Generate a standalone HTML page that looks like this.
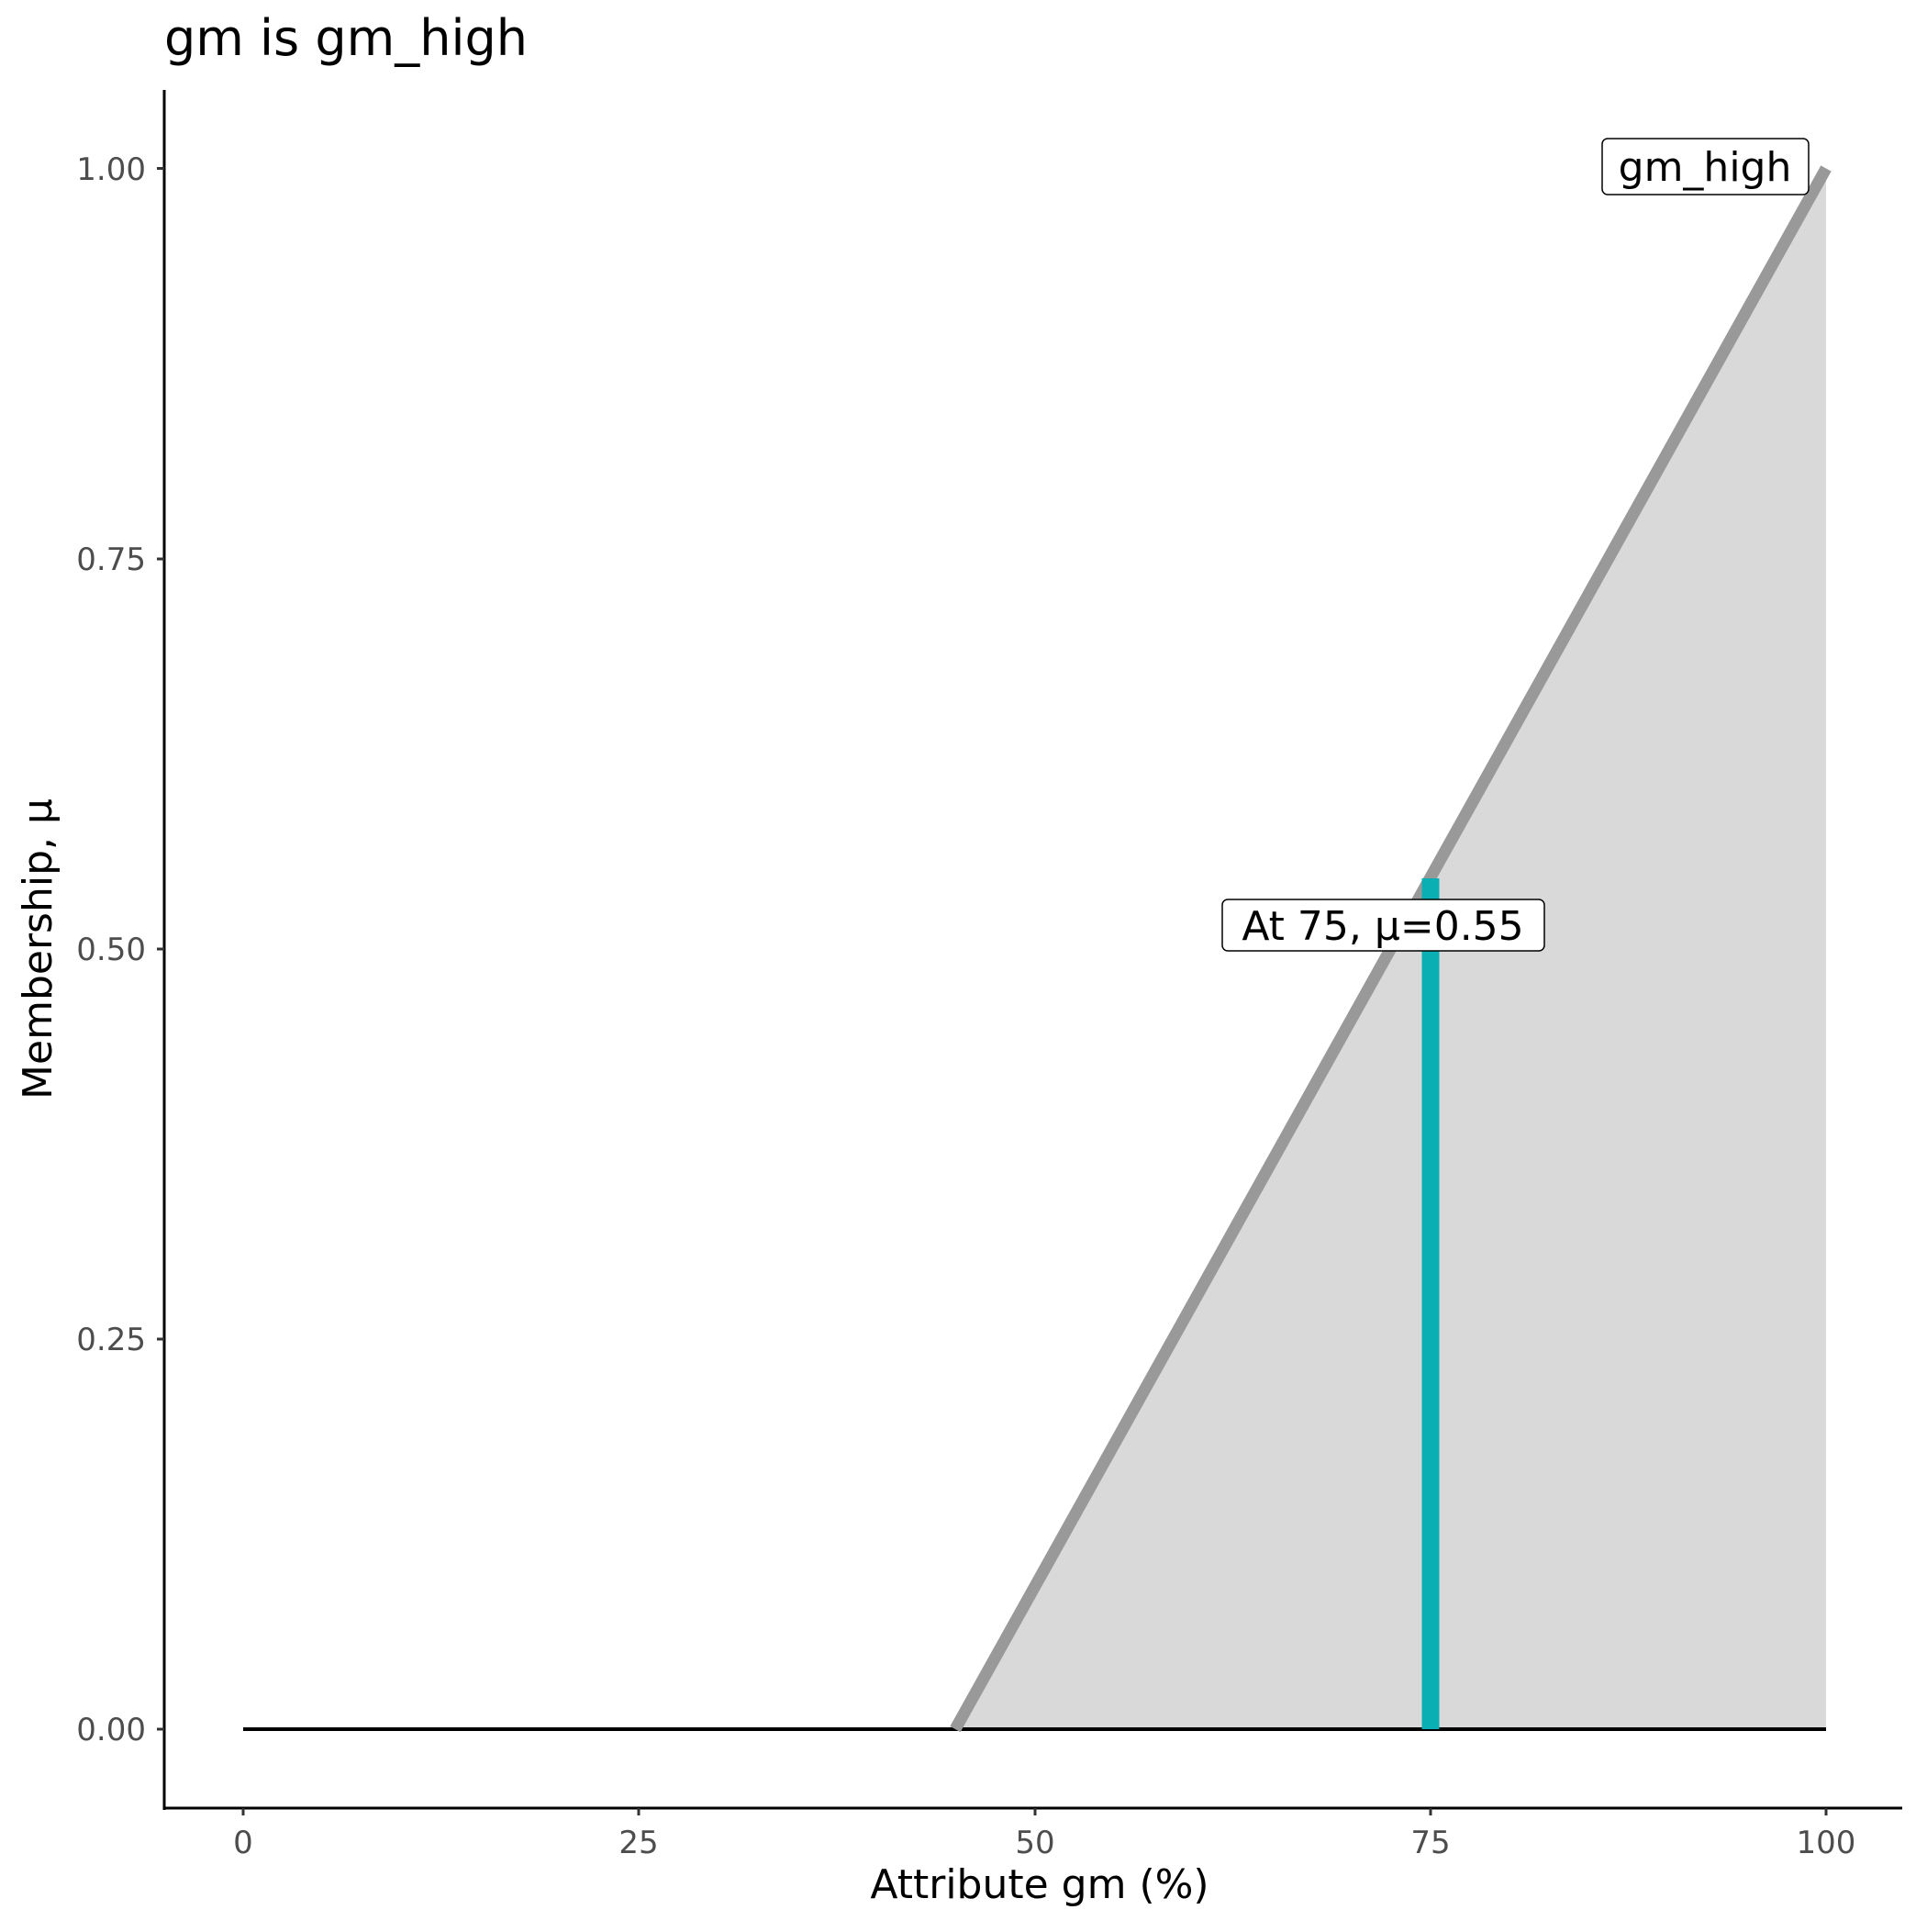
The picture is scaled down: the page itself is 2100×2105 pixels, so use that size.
<!DOCTYPE html>
<html><head><style>html,body{margin:0;padding:0;background:#fff}</style></head>
<body>
<svg width="2100" height="2100" viewBox="0 0 2100 2100" xmlns="http://www.w3.org/2000/svg" font-family="DejaVu Sans, Liberation Sans, sans-serif">
<rect width="2100" height="2100" fill="#fff"/>
<polygon points="1041,1884 1990,183.5 1990,1884" fill="#d9d9d9"/>
<line x1="265" y1="1884" x2="1990" y2="1884" stroke="#000" stroke-width="4"/>
<line x1="1041" y1="1884" x2="1990" y2="183.5" stroke="#999" stroke-width="13"/>
<line x1="1559" y1="1884" x2="1559" y2="957" stroke="#0aafb3" stroke-width="19"/>
<rect x="1332" y="980" width="351" height="56" rx="6" fill="#fff" stroke="#000" stroke-width="1.5"/>
<text x="1507" y="1024" font-size="44" text-anchor="middle">At 75, μ=0.55</text>
<rect x="1746" y="151" width="225" height="61" rx="6" fill="#fff" stroke="#000" stroke-width="1.5"/>
<text x="1858" y="197" font-size="44" text-anchor="middle">gm_high</text>
<line x1="179" y1="98" x2="179" y2="1972" stroke="#000" stroke-width="3"/>
<line x1="178" y1="1970" x2="2073" y2="1970" stroke="#000" stroke-width="3"/>
<g stroke="#333" stroke-width="3">
<line x1="171" y1="1884" x2="179" y2="1884"/><line x1="171" y1="1459" x2="179" y2="1459"/>
<line x1="171" y1="1034" x2="179" y2="1034"/><line x1="171" y1="609" x2="179" y2="609"/>
<line x1="171" y1="183.5" x2="179" y2="183.5"/>
<line x1="265" y1="1970" x2="265" y2="1978"/><line x1="696" y1="1970" x2="696" y2="1978"/>
<line x1="1128" y1="1970" x2="1128" y2="1978"/><line x1="1559" y1="1970" x2="1559" y2="1978"/>
<line x1="1990" y1="1970" x2="1990" y2="1978"/>
</g>
<g font-size="34" fill="#4d4d4d" text-anchor="end">
<text x="159" y="1896">0.00</text><text x="159" y="1471">0.25</text>
<text x="159" y="1046">0.50</text><text x="159" y="621">0.75</text>
<text x="159" y="196">1.00</text>
</g>
<g font-size="34" fill="#4d4d4d" text-anchor="middle">
<text x="265" y="2019">0</text><text x="696" y="2019">25</text><text x="1128" y="2019">50</text>
<text x="1559" y="2019">75</text><text x="1990" y="2019">100</text>
</g>
<text x="1133" y="2068" font-size="44" text-anchor="middle">Attribute gm (%)</text>
<text transform="translate(56,1034) rotate(-90)" font-size="44" text-anchor="middle">Membership, μ</text>
<text x="179" y="60" font-size="54">gm is gm_high</text>
</svg>
</body></html>
